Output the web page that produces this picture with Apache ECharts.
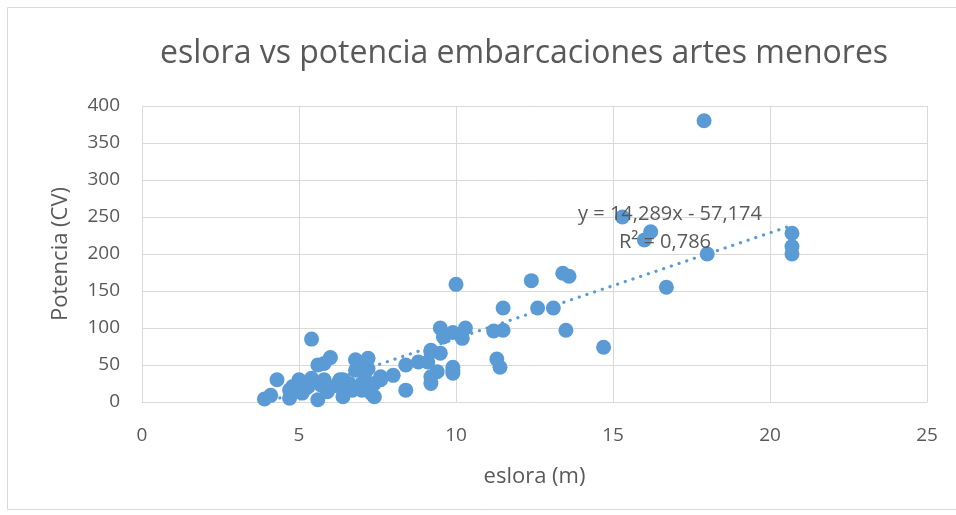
<!DOCTYPE html>
<html>
<head>
<meta charset="utf-8">
<script src="https://cdn.jsdelivr.net/npm/echarts@6/dist/echarts.min.js"></script>
<style>
  html, body { margin: 0; padding: 0; background: #fff; }
  #chart { width: 956px; height: 515px; }
</style>
</head>
<body>
<div id="chart"></div>
<script>
// eslora (m) de cada embarcación
const eslora = [
  17.9, 15.3, 16.2, 16.0, 18.0, 20.7, 20.7, 20.7, 16.7, 13.4,
  13.6, 12.4, 11.5, 12.6, 13.1, 11.2, 11.5, 13.5, 14.7, 11.3,
  11.4, 10.0, 9.5, 9.6, 9.9, 10.3, 10.2, 9.2, 9.5, 9.1,
  9.4, 9.9, 9.9, 9.2, 5.4, 6.0, 5.6, 5.8, 6.8, 4.3,
  5.0, 5.4, 5.8, 6.3, 3.9, 4.1, 4.7, 4.7, 5.1, 5.6,
  5.9, 6.4, 6.7, 4.8, 5.3, 5.7, 6.3, 6.6, 7.2, 6.9,
  9.2, 8.4, 8.8, 9.9, 9.2, 8.4, 8.0, 7.6, 7.4, 7.1,
  7.0, 7.3, 7.4, 6.8, 7.2, 5.0, 6.0, 7.0, 7.6, 6.4, 5.2
];
// potencia (CV)
const potencia = [
  380, 250, 230, 219, 200, 228, 210, 200, 155, 174,
  170, 164, 127, 127, 127, 96, 97, 97, 74, 58,
  47, 159, 100, 88, 94, 100, 86, 70, 66, 54,
  41, 47, 39, 25, 85, 60, 50, 52, 57, 30,
  30, 32, 30, 30, 4, 9, 5, 16, 12, 3,
  14, 7, 16, 21, 21, 23, 21, 25, 59, 52,
  68, 50, 54, 43, 34, 16, 36, 34, 25, 39,
  25, 12, 7, 43, 45, 25, 20, 16, 30, 30, 18
];
// linea de tendencia (Excel): y = 14,289x - 57,174
const slope = 14.289;
const intercept = -57.174;
const xTicks = { min: 0, max: 25, step: 5 };
const yTicks = { min: 0, max: 400, step: 50 };

const points = eslora.map((x, i) => [x, potencia[i]]);
const xMin = Math.min(...eslora);
const xMax = Math.max(...eslora);
const trend = [xMin, xMax].map((x) => [x, slope * x + intercept]);

const txt = '#595959';
const font = 'Open Sans';

const chart = echarts.init(document.getElementById('chart'));
chart.setOption({
  animation: false,
  title: {
    text: 'eslora vs potencia embarcaciones artes menores',
    left: 155,
    top: 33,
    textStyle: { color: txt, fontFamily: font, fontSize: 32, fontWeight: 'normal' }
  },
  grid: { left: 142, right: 29, top: 106, bottom: 113 },
  xAxis: {
    type: 'value',
    min: xTicks.min,
    max: xTicks.max,
    interval: xTicks.step,
    name: 'eslora (m)',
    nameLocation: 'middle',
    nameGap: 64,
    nameTextStyle: { color: txt, fontFamily: font, fontSize: 22 },
    axisLine: { show: true, lineStyle: { color: '#d9d9d9', width: 1 } },
    axisTick: { show: false },
    axisLabel: { color: txt, fontFamily: font, fontSize: 19, margin: 24 },
    splitLine: { show: true, lineStyle: { color: '#d9d9d9', width: 1 } }
  },
  yAxis: {
    type: 'value',
    min: yTicks.min,
    max: yTicks.max,
    interval: yTicks.step,
    name: 'Potencia (CV)',
    nameLocation: 'middle',
    nameGap: 70,
    nameTextStyle: { color: txt, fontFamily: font, fontSize: 22 },
    axisLine: { show: false },
    axisTick: { show: false },
    axisLabel: { color: txt, fontFamily: font, fontSize: 19, margin: 22 },
    splitLine: { show: true, lineStyle: { color: '#d9d9d9', width: 1 } }
  },
  series: [
    {
      type: 'scatter',
      data: points,
      symbolSize: 15,
      itemStyle: { color: '#5b9bd5', opacity: 1 },
      z: 3
    },
    {
      type: 'line',
      data: trend,
      symbol: 'none',
      lineStyle: { color: '#5b9bd5', width: 3.2, type: [0.1, 8], cap: 'round' },
      z: 2
    }
  ],
  graphic: [
    {
      type: 'rect',
      shape: { x: 7.5, y: 7.5, width: 960, height: 502 },
      style: { fill: 'none', stroke: '#d9d9d9', lineWidth: 1 },
      silent: true
    },
    {
      type: 'text',
      x: 670,
      y: 214,
      style: {
        text: 'y = 14,289x - 57,174',
        fill: txt,
        font: '20px "Open Sans"',
        textAlign: 'center',
        textVerticalAlign: 'middle'
      },
      z: 10
    },
    {
      type: 'text',
      x: 665,
      y: 242,
      style: {
        text: 'R² = 0,786',
        fill: txt,
        font: '20px "Open Sans"',
        textAlign: 'center',
        textVerticalAlign: 'middle'
      },
      z: 10
    }
  ]
});
</script>
</body>
</html>
